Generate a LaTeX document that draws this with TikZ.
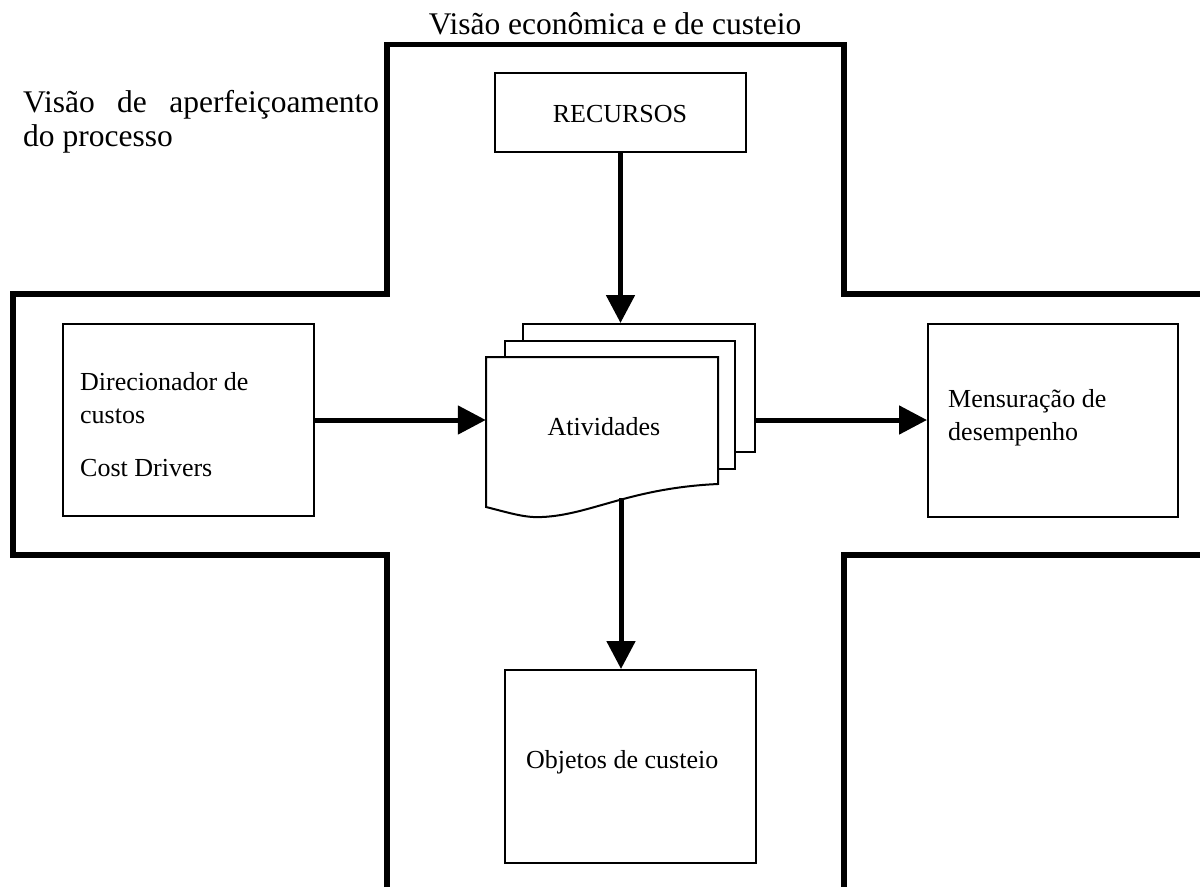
\documentclass[tikz,border=0pt]{standalone}
\usepackage{fontspec}
\setmainfont{Liberation Serif}
\usetikzlibrary{arrows.meta}
\begin{document}
\begin{tikzpicture}[x=1pt,y=-1pt,
  box/.style={draw, line width=2pt, rectangle, inner sep=0pt},
  doc/.style={draw, line width=2pt, rectangle, fill=white, inner sep=0pt},
  outline/.style={line width=5.5pt},
  conn/.style={line width=5pt, -{Triangle[length=28pt,width=28pt]}},
  big/.style={font=\fontsize{31.5}{36}\selectfont, inner sep=0pt},
  txt/.style={font=\fontsize{26}{30}\selectfont, inner sep=0pt, anchor=base west}]
\useasboundingbox (0,0) rectangle (1200,887);
% cross outline
\draw[outline] (387,887) -- (387,555) -- (13,555) -- (13,294) -- (387,294)
  -- (387,44.5) -- (844,44.5) -- (844,294) -- (1200,294);
\draw[outline] (1200,555) -- (844,555) -- (844,887);
% titles
\node[big, anchor=base] (ttop) at (615,34) {Visão econômica e de custeio};
\node[big, anchor=base west] (tleft1) at (23,112) {\makebox[356pt][l]{Visão\hfill de\hfill aperfeiçoamento}};
\node[big, anchor=base west] (tleft2) at (23,146) {do processo};
% boxes
\node[box, minimum width=251pt, minimum height=79pt] (rec) at (620.5,112.5) {};
\node[txt, anchor=base] (trec) at (620,122) {RECURSOS};
\node[box, minimum width=251pt, minimum height=192pt] (dir) at (188.5,420) {};
\node[txt] (tdir1) at (80,390) {Direcionador de};
\node[txt] (tdir2) at (80,423) {custos};
\node[txt] (tdir3) at (80,476) {Cost Drivers};
\node[box, minimum width=250pt, minimum height=193pt] (mens) at (1053,420.5) {};
\node[txt] (tmens1) at (948,407) {Mensuração de};
\node[txt] (tmens2) at (948,440) {desempenho};
\node[box, minimum width=251pt, minimum height=193pt] (obj) at (630.5,766.5) {};
\node[txt] (tobj) at (526,768) {Objetos de custeio};
% stacked documents
\node[doc, minimum width=232pt, minimum height=128pt] (back) at (639,388) {};
\node[doc, minimum width=230pt, minimum height=128pt] (mid) at (620,405) {};
\draw[line width=2pt, fill=white] (486,357) -- (718,357) -- (718,484)
  .. controls (630,488) and (590,515) .. (542,517)
  .. controls (525,518) and (510,513) .. (486,507) -- cycle;
\node[minimum width=232pt, minimum height=127pt, inner sep=0pt] (front) at (602,420) {};
\node[txt, anchor=base] (tact) at (604,435) {Atividades};
\coordinate (wave) at (621,498);
% connectors
\draw[conn] (rec.south) -- (rec.south |- back.north);
\draw[conn] (dir.east) -- (dir.east -| front.west);
\draw[conn] (back.east |- dir.east) -- (mens.west |- dir.east);
\draw[conn] (wave) -- (wave |- obj.north);
\end{tikzpicture}
\end{document}
